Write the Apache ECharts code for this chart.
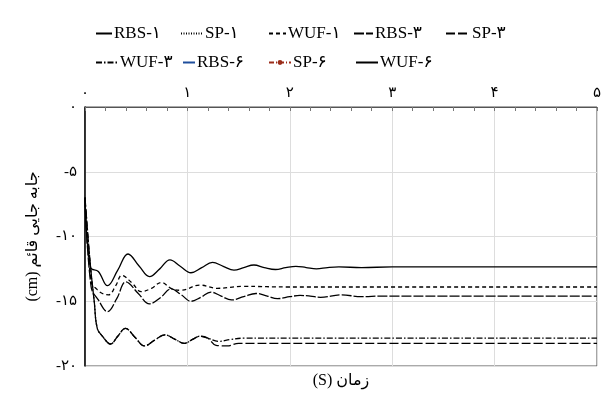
<!DOCTYPE html>
<html>
<head>
<meta charset="utf-8">
<script src="https://cdn.jsdelivr.net/npm/echarts/dist/echarts.min.js"></script>
<style>
  html, body { margin: 0; padding: 0; background: #fff; }
  #chart { width: 604px; height: 394px; }
</style>
</head>
<body>
<div id="chart"></div>
<script>
// 图例名称（9 条）
var seriesNames = ['RBS-۱', 'SP-۱', 'WUF-۱', 'RBS-۳', 'SP-۳', 'WUF-۳', 'RBS-۶', 'SP-۶', 'WUF-۶'];

// 坐标轴刻度文字
var xTickLabels = ['۰', '۱', '۲', '۳', '۴', '۵'];
var yTickLabels = { '0': '۰', '-5': '-۵', '-10': '-۱۰', '-15': '-۱۵', '-20': '-۲۰' };

// RBS-۱ （实线，上）
var tRBS1 = [0, 0.055, 0.13, 0.22, 0.32, 0.42, 0.53, 0.63, 0.73, 0.83, 0.93, 1.035, 1.14, 1.245, 1.35, 1.455, 1.55, 1.65, 1.75, 1.86, 1.96, 2.06, 2.16, 2.26, 2.37, 2.48, 2.7, 3, 5];
var vRBS1 = [-7, -12.4, -12.7, -13.8, -12.6, -11.35, -12.3, -13.1, -12.5, -11.8, -12.3, -12.8, -12.4, -12.0, -12.3, -12.6, -12.4, -12.2, -12.4, -12.55, -12.4, -12.3, -12.4, -12.5, -12.4, -12.35, -12.4, -12.35, -12.35];

// WUF-۱ （短虚线）
var tWUF1 = [0, 0.06, 0.12, 0.17, 0.23, 0.3, 0.36, 0.46, 0.55, 0.65, 0.745, 0.85, 0.94, 1.12, 1.29, 1.54, 2, 5];
var vWUF1 = [-7, -13.5, -14.1, -14.4, -14.5, -13.8, -13.0, -13.6, -14.25, -14.0, -13.55, -14.05, -14.15, -13.75, -14.0, -13.85, -13.9, -13.9];

// RBS-۳ （长虚线，中）
var tRBS3 = [0, 0.06, 0.13, 0.22, 0.31, 0.4, 0.52, 0.63, 0.74, 0.84, 0.94, 1.035, 1.13, 1.23, 1.33, 1.43, 1.55, 1.67, 1.78, 1.88, 2.0, 2.1, 2.2, 2.3, 2.5, 2.7, 2.9, 5];
var vRBS3 = [-7, -13.9, -14.9, -15.8, -14.8, -13.5, -14.4, -15.2, -14.7, -14.05, -14.5, -15.0, -14.7, -14.3, -14.6, -14.9, -14.65, -14.4, -14.6, -14.8, -14.65, -14.55, -14.6, -14.7, -14.5, -14.65, -14.6, -14.6];

// WUF-۳ （点划线，下）
var tWUF3 = [0, 0.05, 0.09, 0.12, 0.17, 0.25, 0.32, 0.395, 0.49, 0.58, 0.68, 0.78, 0.88, 0.97, 1.05, 1.12, 1.2, 1.31, 1.42, 1.55, 2, 5];
var vWUF3 = [-7, -12, -15, -17.1, -17.7, -18.3, -17.7, -17.1, -17.8, -18.45, -18.0, -17.6, -17.95, -18.25, -17.95, -17.7, -17.85, -18.1, -17.95, -17.85, -17.85, -17.85];

// SP-۳ （长划线，最下）
var tSP3 = [0, 0.05, 0.09, 0.12, 0.17, 0.25, 0.32, 0.395, 0.49, 0.58, 0.68, 0.78, 0.88, 0.97, 1.05, 1.12, 1.2, 1.28, 1.39, 1.5, 2, 5];
var vSP3 = [-7, -12, -15, -17.1, -17.7, -18.3, -17.7, -17.1, -17.8, -18.45, -18.0, -17.6, -17.95, -18.25, -17.95, -17.7, -17.85, -18.4, -18.45, -18.25, -18.25, -18.25];

function pairs(t, v) {
  return t.map(function (x, i) { return [x, v[i]]; });
}

var serif = '"Liberation Serif", "DejaVu Serif", "DejaVu Sans", serif';

// 每条曲线的样式
var seriesStyle = {
  'RBS-۱': { data: pairs(tRBS1, vRBS1), color: '#000', type: 'solid' },
  'SP-۱': { data: [], color: '#000', type: [1, 1.5] },
  'WUF-۱': { data: pairs(tWUF1, vWUF1), color: '#000', type: [4, 3] },
  'RBS-۳': { data: pairs(tRBS3, vRBS3), color: '#000', type: [10, 2] },
  'SP-۳': { data: pairs(tSP3, vSP3), color: '#000', type: [9, 3] },
  'WUF-۳': { data: pairs(tWUF3, vWUF3), color: '#000', type: [6, 2, 1.5, 2] },
  'RBS-۶': { data: [], color: '#1f4e9c', type: 'solid' },
  'SP-۶': { data: [], color: '#9b2d1a', type: [5, 2, 1, 2], symbol: 'circle' },
  'WUF-۶': { data: [], color: '#000', type: 'solid' }
};

// 图例位置
var legendLeft = [95, 180, 268, 353, 445, 95, 182, 268, 355];
var legendTop = [25, 25, 25, 25, 25, 54, 54, 54, 54];
var legendIconW = [16, 22, 17, 19, 24, 22, 12, 22, 22];

var chart = echarts.init(document.getElementById('chart'), null, { renderer: 'canvas' });

chart.setOption({
  animation: false,
  grid: {
    left: 85, right: 6, top: 107, bottom: 28,
    show: true, borderColor: '#555', borderWidth: 1
  },
  legend: seriesNames.map(function (n, i) {
    var hasMark = !!seriesStyle[n].symbol;
    return {
      data: [n],
      left: legendLeft[i],
      top: legendTop[i],
      itemWidth: legendIconW[i],
      itemHeight: hasMark ? 6 : 10,
      itemGap: 0,
      padding: 0,
      itemStyle: { opacity: hasMark ? 1 : 0 },
      textStyle: { fontFamily: serif, fontSize: 17, color: '#000', padding: [0, 0, 0, -3] }
    };
  }),
  xAxis: {
    type: 'value',
    position: 'top',
    min: 0, max: 5, interval: 1,
    axisLine: { show: true, lineStyle: { color: '#555', width: 1 } },
    axisTick: { show: true, inside: true, length: 4, lineStyle: { color: '#777' } },
    minorTick: { show: true, splitNumber: 5, length: 4, lineStyle: { color: '#777' } },
    splitLine: { show: true, lineStyle: { color: '#ddd', width: 1 } },
    axisLabel: {
      margin: 6,
      fontFamily: serif, fontSize: 15, color: '#000',
      formatter: function (v) { return xTickLabels[Math.round(v)]; }
    }
  },
  yAxis: {
    type: 'value',
    min: -20, max: 0, interval: 5,
    name: '(cm) جابه جایی قائم',
    nameLocation: 'middle',
    nameRotate: 90,
    nameGap: 44,
    nameTextStyle: { fontFamily: serif, fontSize: 16, color: '#000' },
    axisLine: { show: true, lineStyle: { color: '#000', width: 1.5 } },
    axisTick: { show: false },
    splitLine: { show: true, lineStyle: { color: '#ddd', width: 1 } },
    axisLabel: {
      margin: 8,
      fontFamily: serif, fontSize: 15, color: '#000',
      formatter: function (v) { return yTickLabels[String(v)]; }
    }
  },
  graphic: [{
    type: 'text',
    x: 341, y: 381,
    style: {
      text: '(S) زمان',
      align: 'center', verticalAlign: 'middle',
      font: '16px ' + serif, fill: '#000'
    }
  }],
  series: seriesNames.map(function (n) {
    var s = seriesStyle[n];
    return {
      name: n,
      type: 'line',
      data: s.data,
      smooth: 0.4,
      symbol: s.symbol || 'none',
      symbolSize: 5,
      showSymbol: false,
      color: s.color,
      lineStyle: { color: s.color, width: 1.3, type: s.type }
    };
  })
});
</script>
</body>
</html>
